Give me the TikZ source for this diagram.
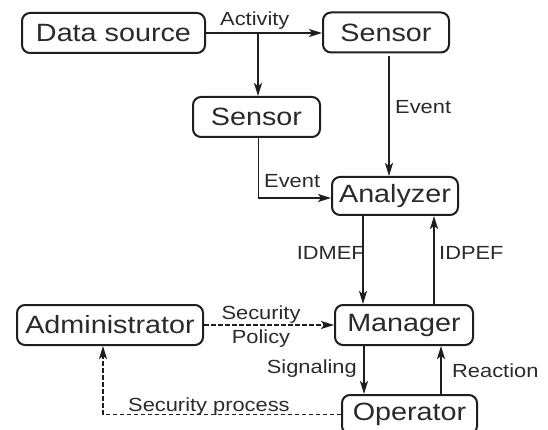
\documentclass[tikz,border=0pt]{standalone}
\usepackage{fontspec}
\setmainfont{Liberation Sans}
\newfontfamily\boxfont[FakeStretch=1.15]{Liberation Sans}
\newfontfamily\lblfont[FakeStretch=1.15]{Liberation Sans}
\usetikzlibrary{arrows.meta}
\definecolor{ink}{HTML}{1E1E1E}
\definecolor{txt}{HTML}{2A2A2A}
\begin{document}
\begin{tikzpicture}[x=1pt,y=-1pt,
  blk/.style={draw=ink, line width=2pt, rounded corners=8pt, inner sep=0pt,
    minimum height=40pt, text=txt, font=\boxfont\fontsize{25}{28}\selectfont},
  conn/.style={draw=ink, line width=1.7pt, -{Stealth[length=13pt,width=8pt,inset=3pt]}},
  dashconn/.style={conn, dash pattern=on 4.5pt off 2.5pt},
  lbl/.style={text=txt, inner sep=0pt, font=\lblfont\fontsize{19}{23}\selectfont}
]
\useasboundingbox (0,0) rectangle (548,430);

% blocks
\node[blk, minimum width=183pt] (ds) at (113.5,33) {Data source};
\node[blk, minimum width=126pt] (s1) at (386,32.5) {Sensor};
\node[blk, minimum width=127pt] (s2) at (256.5,117) {Sensor};
\node[blk, minimum width=126pt, minimum height=38pt] (an) at (395,196) {Analyzer};
\node[blk, minimum width=138pt] (mg) at (404,325) {Manager};
\node[blk, minimum width=186pt] (ad) at (110,325) {Administrator};
\node[blk, minimum width=135pt, minimum height=39pt] (op) at (409.5,414.5) {Operator};

% data flow from the source to the sensors
\draw[conn] (ds.east) -- (ds.east -| s1.west);
\coordinate (br) at ([xshift=1.5pt]s2.north |- ds.east);
\draw[conn] (br) -- ([xshift=1.5pt]s2.north);
\node[lbl, anchor=base west] (lact) at (220,26) {Activity};

% events into the analyzer
\draw[conn, shorten <=3pt] ([xshift=3pt]s1.south) -- ([xshift=3pt]s1.south |- an.north);
\node[lbl, anchor=base west] (lev1) at (395,114) {Event};
\draw[conn] ([xshift=2pt]s2.south) |- ([yshift=-2pt]an.west);
\node[lbl, anchor=base west] (lev2) at (264,188) {Event};

% analyzer <-> manager
\draw[conn] ([xshift=-32pt]an.south) -- ([xshift=-32pt]an.south |- mg.north);
\draw[conn] ([xshift=39pt]an.south |- mg.north) -- ([xshift=39pt]an.south);
\node[lbl, anchor=base east] (lidm) at (365,259) {IDMEF};
\node[lbl, anchor=base west] (lidp) at (439,259) {IDPEF};

% administrator policy
\draw[dashconn] (ad.east) -- (mg.west);
\node[lbl, anchor=base] (lsec) at (261,319) {Security};
\node[lbl, anchor=base] (lpol) at (261,343) {Policy};

% manager <-> operator
\draw[conn] ([xshift=-40pt]mg.south) -- ([xshift=-40pt]mg.south |- op.north);
\draw[conn] ([xshift=37pt]mg.south |- op.north) -- ([xshift=37pt]mg.south);
\node[lbl, anchor=base east] (lsig) at (357,373) {Signaling};
\node[lbl, anchor=base west] (lrea) at (452,377) {Reaction};

% feedback to the administrator
\draw[dashconn] (op.west) -| ([xshift=-7pt]ad.south);
\node[lbl, anchor=base west] (lsp) at (128,411) {Security process};
\end{tikzpicture}
\end{document}
